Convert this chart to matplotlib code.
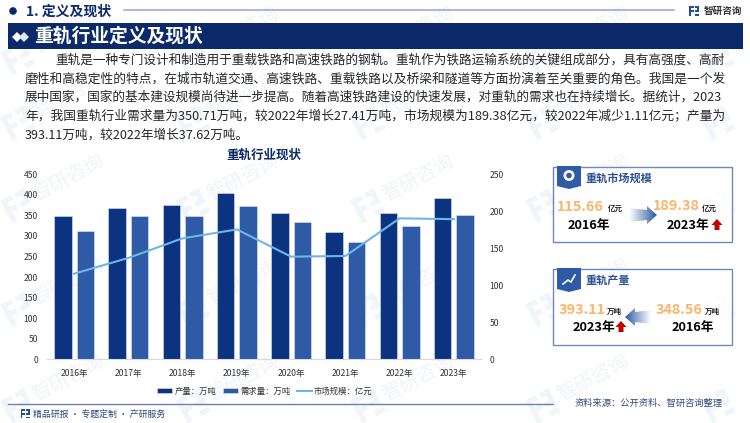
import numpy as np
import matplotlib
matplotlib.use("Agg")
import matplotlib.pyplot as plt
from matplotlib.patches import Polygon, Rectangle, Circle
from matplotlib.colors import LinearSegmentedColormap

plt.rcParams['font.family'] = ['Noto Sans CJK SC', 'DejaVu Sans']

years = ['2016年', '2017年', '2018年', '2019年', '2020年', '2021年', '2022年', '2023年']
production = [348.56, 369, 376, 404, 356, 309, 355.49, 393.11]
demand = [311, 349, 349, 373, 335, 286, 323.3, 350.71]
market = [115.66, 137, 163.5, 175.5, 138.7, 139.6, 190.49, 189.38]
left_ticks = [0, 50, 100, 150, 200, 250, 300, 350, 400, 450]
right_ticks = [0, 50, 100, 150, 200, 250]
body_lines = [
    '重轨是一种专门设计和制造用于重载铁路和高速铁路的钢轨。重轨作为铁路运输系统的关键组成部分，具有高强度、高耐',
    '磨性和高稳定性的特点，在城市轨道交通、高速铁路、重载铁路以及桥梁和隧道等方面扮演着至关重要的角色。我国是一个发',
    '展中国家，国家的基本建设规模尚待进一步提高。随着高速铁路建设的快速发展，对重轨的需求也在持续增长。据统计，2023',
    '年，我国重轨行业需求量为350.71万吨，较2022年增长27.41万吨，市场规模为189.38亿元，较2022年减少1.11亿元；产量为',
    '393.11万吨，较2022年增长37.62万吨。',
]

NAVY = '#0c2a6a'
C_PROD = '#0c337f'
C_DEM = '#2f5aa5'
C_LINE = '#6db6e8'
ORANGE = '#fbb56b'
BORDER = '#6c88c0'
RED = '#c00000'

W, H = 750, 423
fig = plt.figure(figsize=(W / 100, H / 100), dpi=100, facecolor='white')

bg = fig.add_axes([0, 0, 1, 1], zorder=0)
bg.set_axis_off()
bg.set_xlim(0, W)
bg.set_ylim(H, 0)


def logo(ax, x, y, s, color, angle=0.0, z=1):
    """Small stylised company mark, s = size in px, (x, y) = centre."""
    parts = [(-.5, -.5, .45, .2), (-.5, -.5, .2, 1.0), (-.5, -.1, .45, .2),
             (.1, -.5, .4, .2), (.3, -.5, .2, .55), (.1, -.1, .4, .2), (.1, .3, .4, .2)]
    a = np.deg2rad(angle)
    c, sn = np.cos(a), np.sin(a)
    for px, py, w, h in parts:
        pts = np.array([[px, py], [px + w, py], [px + w, py + h], [px, py + h]]) * s
        rot = np.c_[pts[:, 0] * c - pts[:, 1] * sn + x, pts[:, 0] * sn + pts[:, 1] * c + y]
        ax.add_patch(Polygon(rot, closed=True, fc=color, ec='none', zorder=z))


# watermark grid
for wy in [30, 95, 178, 282, 378]:
    for wx in [68, 243, 418, 593]:
        bg.text(wx, wy, '智研咨询', fontsize=14, color='#f0f3f8', rotation=28,
                ha='center', va='center', zorder=1)
    for wx in [68, 243, 418, 593, 768]:
        logo(bg, wx - 50, wy + 28, 26, '#f0f5fa', angle=-28, z=1)

# header
bg.add_patch(Circle((13, 11), 3.8, fc=NAVY, ec='none', zorder=3))
bg.text(26, 11.5, '1. 定义及现状', fontsize=10, fontweight='bold', color=NAVY, va='center', zorder=3)
bg.plot([124, 674], [10.5, 10.5], color='#93a4cf', lw=1.1, zorder=3)
logo(bg, 694, 11, 10, '#1f4e9c', z=3)
bg.text(704, 10.5, '智研咨询', fontsize=6.9, fontweight='bold', color='#333333', va='center', zorder=3)

# banner
bg.add_patch(Rectangle((8, 23), 735, 26, fc=NAVY, ec='none', zorder=3))
for cx, col in [(17, 'white'), (24, '#dfe6f2')]:
    bg.add_patch(Polygon([(cx - 5, 37), (cx, 32), (cx + 5, 37), (cx, 42)], fc=col, ec='none', zorder=4))
bg.text(34.5, 36, '重轨行业定义及现状', fontsize=13.5, fontweight='bold', color='white', va='center', zorder=4)

# body text, each line fitted to its measured width
renderer = fig.canvas.get_renderer()
starts = [55, 25, 25, 25, 25]
ys = [60, 79, 97.5, 116, 135]
for line, x0, y0, i in zip(body_lines, starts, ys, range(5)):
    t = bg.text(x0, y0, line, fontsize=9.1, color='#262626', va='center', zorder=3)
    if i < 4:
        width = t.get_window_extent(renderer).width
        t.set_fontsize(9.1 * (725 - x0) / width)

bg.text(264, 155, '重轨行业现状', fontsize=9, fontweight='bold', color=NAVY, ha='center', va='center', zorder=3)

# footer
bg.plot([8, 553], [404, 404], color='#6a7fae', lw=1.0, zorder=3)
logo(bg, 25, 414, 9, '#1f4e9c', z=3)
bg.text(33, 414, '精品研报 · 专题定制 · 产研服务', fontsize=6.4, color='#33457a', va='center', zorder=3)
bg.text(575, 403, '资料来源：公开资料、智研咨询整理', fontsize=6.7, color='#3a4a7a', va='center', zorder=3)

# cards
cmap_r = LinearSegmentedColormap.from_list('g', ['#ffffff', '#2f5aa5'])


def grad_arrow(x0, x1, yc, direction):
    """Gradient block arrow from x0 to x1 (direction +1 right, -1 left)."""
    xa, xb = min(x0, x1), max(x0, x1)
    head = 10
    if direction > 0:
        pts = [(xa, yc - 7), (xb - head, yc - 5), (xb - head, yc - 9), (xb, yc),
               (xb - head, yc + 9), (xb - head, yc + 5), (xa, yc + 7)]
        g = np.linspace(0, 1, 64).reshape(1, -1)
    else:
        pts = [(xb, yc - 7), (xa + head, yc - 5), (xa + head, yc - 9), (xa, yc),
               (xa + head, yc + 9), (xa + head, yc + 5), (xb, yc + 7)]
        g = np.linspace(1, 0, 64).reshape(1, -1)
    im = bg.imshow(g, cmap=cmap_r, extent=(xa, xb, yc + 10, yc - 10), aspect='auto', zorder=4)
    clip = Polygon(pts, closed=True, transform=bg.transData, fc='none', ec='none')
    bg.add_patch(clip)
    im.set_clip_path(clip)


def red_up(xc, yc):
    pts = [(xc, yc - 6), (xc + 5.5, yc), (xc + 2.5, yc), (xc + 2.5, yc + 5),
           (xc - 2.5, yc + 5), (xc - 2.5, yc), (xc - 5.5, yc)]
    bg.add_patch(Polygon(pts, fc=RED, ec='none', zorder=5))


def card(y0, y1, title, tip):
    bg.add_patch(Rectangle((553, y0), 179, y1 - y0, fc='white', alpha=0.85, ec='none', zorder=2))
    bg.add_patch(Rectangle((553, y0), 179, y1 - y0, fc='none', ec=BORDER, lw=1.0, zorder=3))
    bg.add_patch(Polygon([(557, y0 - 1), (581, y0 - 1), (581, tip - 3), (569, tip), (557, tip - 3)],
                         fc='#2f5aa6', ec='none', zorder=4))
    bg.text(586, y0 + 11, title, fontsize=8, fontweight='bold', color='#2c4f96', va='center', zorder=4)


VAL = 10.4
UNIT = 5.4
YEAR = 9.2
card(167, 242, '重轨市场规模', 189)
bg.add_patch(Circle((569, 175.5), 5.5, fc='white', ec='none', zorder=5))
bg.add_patch(Circle((569, 175.5), 2.8, fc='#2f5aa6', ec='none', zorder=6))
bg.text(557, 207, '115.66', fontsize=VAL, fontweight='bold', color=ORANGE, va='center', zorder=4)
bg.text(608, 208, '亿元', fontsize=UNIT, fontweight='bold', color='#222222', va='center', zorder=4)
bg.text(568, 225, '2016年', fontsize=YEAR, fontweight='bold', color='black', va='center', zorder=4)
bg.text(653, 206, '189.38', fontsize=VAL, fontweight='bold', color=ORANGE, va='center', zorder=4)
bg.text(702, 208, '亿元', fontsize=UNIT, fontweight='bold', color='#222222', va='center', zorder=4)
bg.text(667, 225, '2023年', fontsize=YEAR, fontweight='bold', color='black', va='center', zorder=4)
red_up(717, 225)
grad_arrow(629, 657, 215, 1)

card(269, 345, '重轨产量', 292)
bg.plot([563, 568, 571, 575], [284, 280, 282, 275], color='white', lw=1.2, zorder=5)
bg.text(559, 310, '393.11', fontsize=VAL, fontweight='bold', color=ORANGE, va='center', zorder=4)
bg.text(607, 311, '万吨', fontsize=UNIT, fontweight='bold', color='#222222', va='center', zorder=4)
bg.text(573, 328, '2023年', fontsize=YEAR, fontweight='bold', color='black', va='center', zorder=4)
red_up(621, 327)
bg.text(656, 310, '348.56', fontsize=VAL, fontweight='bold', color=ORANGE, va='center', zorder=4)
bg.text(705, 311, '万吨', fontsize=UNIT, fontweight='bold', color='#222222', va='center', zorder=4)
bg.text(672, 328, '2016年', fontsize=YEAR, fontweight='bold', color='black', va='center', zorder=4)
grad_arrow(625, 651, 317, -1)

bg.set_xlim(0, W)
bg.set_ylim(H, 0)

# main chart
L, R, T, B = 47, 481, 174.3, 359.3
ax = fig.add_axes([L / W, 1 - B / H, (R - L) / W, (B - T) / H], zorder=2)
ax.patch.set_alpha(0)
x = np.arange(len(years))
bw = 0.325
off = 0.208
b1 = ax.bar(x - off, production, bw, color=C_PROD, edgecolor='#dde5f2', linewidth=0.4, label='产量：万吨')
b2 = ax.bar(x + off, demand, bw, color=C_DEM, edgecolor='#dde5f2', linewidth=0.4, label='需求量：万吨')
ax.set_xlim(-0.5, len(years) - 0.5)
ax.set_ylim(0, 450)
ax.set_yticks(left_ticks)
ax.set_xticks(x, years)
ax.tick_params(axis='both', length=0, labelsize=6.2, labelcolor='#333333')
ax.tick_params(axis='x', pad=7)
ax.tick_params(axis='y', pad=6.5)
for s in ['top', 'left', 'right']:
    ax.spines[s].set_visible(False)
ax.spines['bottom'].set_color('#d9d9d9')
ax.spines['bottom'].set_linewidth(0.8)

ax2 = ax.twinx()
ax2.patch.set_alpha(0)
l1, = ax2.plot(x, market, color=C_LINE, lw=1.5, label='市场规模：亿元', solid_joinstyle='miter')
ax2.set_ylim(0, 250)
ax2.set_yticks(right_ticks)
ax2.tick_params(axis='y', length=0, labelsize=6.2, labelcolor='#333333', pad=6)
for s in ['top', 'left', 'right', 'bottom']:
    ax2.spines[s].set_visible(False)

fig.legend(handles=[b1, b2, l1], loc='center', bbox_to_anchor=(265 / W, 1 - 391 / H), ncol=3,
           frameon=False, fontsize=6, labelcolor='#333333', handlelength=1.8, handleheight=0.6,
           handletextpad=0.25, columnspacing=0.8, borderpad=0, borderaxespad=0)

fig.savefig('out.png', dpi=100, facecolor='white')
